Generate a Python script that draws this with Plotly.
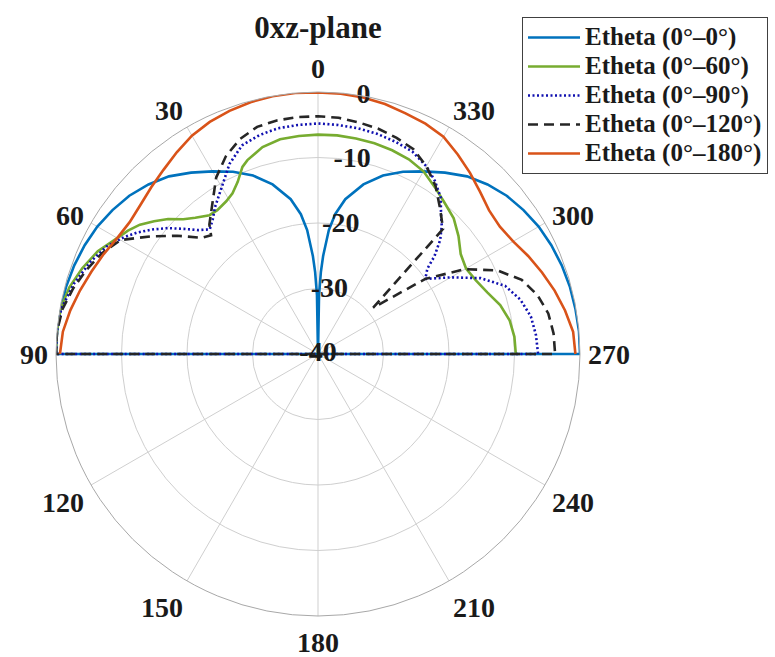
import plotly.graph_objects as go

# ---------------- data (theta in degrees: 0 = top, counter-clockwise; negative = right side) --------------
series_names = ["Etheta (0°–0°)", "Etheta (0°–60°)", "Etheta (0°–90°)",
                "Etheta (0°–120°)", "Etheta (0°–180°)"]

theta_00 = [-90, -85, -80, -75, -70, -65, -60, -55, -50, -45, -40, -35, -30, -25, -20, -15, -10, -7, -5, -3, -2, -1, 0,
            1, 2, 3, 5, 7, 10, 15, 20, 25, 30, 35, 40, 45, 50, 55, 60, 65, 70, 75, 80, 85, 90]
r_00 = [0, 0, -0.1, -0.2, -0.4, -0.7, -1.1, -1.7, -2.4, -3.4, -4.6, -6.2, -7.8, -9.3, -11.0, -13.2, -16.0, -18.5, -21.0, -25.0, -27.5, -31.0, -40,
        -31.0, -27.5, -25.0, -21.0, -18.5, -16.0, -13.2, -11.0, -9.3, -7.8, -6.2, -4.6, -3.4, -2.4, -1.7, -1.1, -0.7, -0.4, -0.2, -0.1, 0, 0]

theta_60 = [-90, -85, -80, -75, -70, -65, -60, -55, -50, -45, -40, -35, -30, -25, -20, -15, -10, -5, 0,
            5, 10, 15, 20, 22, 25, 28, 31, 35, 38, 42, 45, 48, 51, 54, 57, 60, 65, 70, 75, 80, 85, 90]
r_60 = [-9.8, -9.9, -10.3, -11.2, -12.5, -13.4, -13.9, -13.4, -12.0, -10.7, -9.9, -8.9, -7.8, -7.2, -6.9, -6.7, -6.6, -6.5, -6.5,
        -6.6, -6.7, -7.3, -8.5, -9.2, -11.0, -12.2, -12.8, -13.2, -13.1, -12.0, -10.9, -9.2, -7.8, -6.4, -5.4, -4.6, -2.9, -1.7, -0.7, -0.1, 0, 0]

theta_90 = [-90, -85, -80, -75, -70, -65, -60, -55, -52, -50, -47, -44, -42, -38, -34, -30, -25, -20, -15, -10, -5, 0,
            5, 10, 15, 20, 25, 30, 35, 38, 41, 44, 47, 50, 53, 56, 59, 63, 68, 74, 80, 85, 90]
r_90 = [-6.4, -6.6, -7.0, -8.0, -9.6, -12.6, -16.6, -20.0, -18.8, -16.8, -14.5, -12.8, -11.9, -9.6, -8.1, -6.9, -5.9, -5.5, -5.2, -5.0, -4.9, -4.8,
        -4.9, -5.0, -5.4, -6.1, -8.0, -10.6, -12.6, -13.9, -14.8, -13.7, -12.0, -10.1, -8.4, -6.8, -5.4, -3.8, -2.5, -1.2, -0.2, 0, 0]

theta_120 = [-90, -85, -80, -75, -70, -65, -60, -55, -50, -45, -40, -35, -30, -25, -20, -15, -10, -5, 0,
             5, 10, 15, 20, 25, 30, 35, 40, 42, 45, 50, 55, 60, 65, 70, 75, 80, 85, 90]
r_120 = [-3.8, -3.9, -4.3, -5.3, -6.9, -9.8, -14.1, -20.0, -29.0, -13.0, -11.0, -8.7, -6.9, -5.5, -4.9, -4.4, -4.1, -3.8, -3.7,
         -3.7, -3.8, -4.1, -5.1, -6.7, -8.9, -11.9, -14.2, -15.6, -14.9, -11.9, -8.7, -5.2, -3.6, -2.4, -1.3, -0.4, 0, 0]

theta_180 = [-90, -85, -80, -75, -70, -65, -60, -55, -50, -45, -40, -35, -30, -25, -20, -15, -10, -5, 0,
             5, 10, 15, 20, 25, 30, 35, 40, 45, 50, 55, 60, 65, 70, 75, 80, 85, 90]
r_180 = [-0.7, -0.9, -1.7, -2.6, -3.6, -4.6, -5.6, -6.1, -5.9, -5.0, -3.9, -2.8, -1.7, -1.2, -0.9, -0.5, -0.25, -0.1, -0.05,
         0, -0.05, -0.2, -0.5, -0.9, -1.5, -2.4, -3.3, -4.0, -4.6, -4.9, -4.6, -3.9, -3.2, -2.4, -1.6, -0.9, -0.6]

r_min, r_max = -40, 0
radial_ticks = [-40, -30, -20, -10, 0]
radial_ticklabels = ["-40", "-30", "-20", "-10", "0"]
angle_ticks = [0, 30, 60, 90, 120, 150, 180, 210, 240, 270, 300, 330]
angle_ticklabels = [str(a) for a in angle_ticks]

# ---------------- styles ----------------
FONT = "Liberation Serif"
TXT = "#1a1a1a"
colors = ["#0072BD", "#77AC30", "#1010B0", "#262626", "#D95319"]
dashes = ["solid", "solid", "2px,2.5px", "10px,6px", "solid"]
to_center = [True, False, True, True, False]   # lower half falls below r_min -> drawn to the centre

thetas = [theta_00, theta_60, theta_90, theta_120, theta_180]
rs = [r_00, r_60, r_90, r_120, r_180]

fig = go.Figure()
for name, th, rr, col, dsh, cen in zip(series_names, thetas, rs, colors, dashes, to_center):
    th = list(th)
    rr = list(rr)
    if cen:
        th = [th[0]] + th + [th[-1]]
        rr = [r_min] + rr + [r_min]
    fig.add_trace(go.Scatterpolar(
        theta=th, r=rr, mode="lines",
        name='<span style="font-size:25px">' + name + '</span>',
        line=dict(color=col, width=2.6, dash=dsh),
    ))

# radial tick labels, placed along theta = -10 like the reference
fig.add_trace(go.Scatterpolar(
    theta=[-10] * len(radial_ticks), r=radial_ticks, mode="text",
    text=radial_ticklabels, textposition="middle center",
    textfont=dict(family=FONT, size=28, color=TXT, weight="bold"),
    showlegend=False, hoverinfo="skip", cliponaxis=False,
))

W, H = 775, 657
cx, cy, R = 318, 354, 262
fig.update_layout(
    width=W, height=H,
    margin=dict(l=0, r=0, t=0, b=0),
    paper_bgcolor="white",
    title=dict(text="<b>0xz-plane</b>", x=cx / W, xanchor="center", y=1 - 27 / H, yanchor="middle",
               font=dict(family=FONT, size=31, color=TXT)),
    polar=dict(
        domain=dict(x=[(cx - R) / W, (cx + R) / W], y=[(H - cy - R) / H, (H - cy + R) / H]),
        bgcolor="white",
        angularaxis=dict(
            rotation=90, direction="counterclockwise",
            tickmode="array", tickvals=angle_ticks, ticktext=angle_ticklabels,
            tickfont=dict(family=FONT, size=28, color=TXT, weight="bold"),
            ticks="outside", ticklen=2, tickcolor="rgba(0,0,0,0)",
            showline=True, linecolor="#a8a8a8", linewidth=1,
            gridcolor="#cfcfcf", gridwidth=1,
        ),
        radialaxis=dict(
            range=[r_min, r_max], tickmode="array", tickvals=radial_ticks,
            showticklabels=False, ticks="", showline=False,
            gridcolor="#cfcfcf", gridwidth=1, angle=80,
        ),
    ),
    legend=dict(
        x=522 / W, y=1 - 17 / H, xanchor="left", yanchor="top",
        bgcolor="white", bordercolor="#404040", borderwidth=1,
        font=dict(family=FONT, size=20, color=TXT, weight="bold"),
        itemwidth=52, tracegroupgap=0,
    ),
)

fig.write_html("out.html", config={"displayModeBar": False},
               post_script="document.body.style.margin='0';document.body.style.overflow='hidden';")
